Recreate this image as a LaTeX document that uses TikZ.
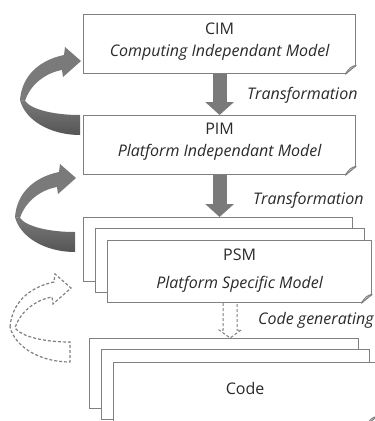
\documentclass[tikz,border=0pt]{standalone}
\usepackage{fontspec}
\setmainfont{Open Sans}
\usetikzlibrary{arrows.meta}
\usetikzlibrary{calc}

\definecolor{frame}{HTML}{808080}
\definecolor{ink}{HTML}{2A2A2A}
\definecolor{arrowgray}{HTML}{7A7A7A}
\definecolor{arrowdark}{HTML}{555555}

% the two halves of the bent ribbon arrows, drawn from their leftmost point
\newcommand{\ribbontop}{(0,0) .. controls (2,-25) and (20,-40) .. (44,-45) -- (45,-53) -- (61,-39) -- (43,-23) -- (42,-30) .. controls (25,-27) and (10,-15) .. (5,1) -- cycle}
\newcommand{\ribbonbottom}{(0,0) .. controls (5,20) and (30,35) .. (60,35) -- (60,15) .. controls (35,15) and (12,10) .. (5,1) -- cycle}
\newcommand{\ribbonall}{(0,0) .. controls (2,-25) and (20,-40) .. (44,-45) -- (45,-53) -- (61,-39) -- (43,-23) -- (42,-30) .. controls (25,-27) and (10,-15) .. (5,1) .. controls (12,10) and (35,15) .. (60,15) -- (60,35) .. controls (30,35) and (5,20) .. (0,0) -- cycle}

% folded corner at the bottom right of a box
\newcommand{\foldcorner}[1]{%
  \fill[white] ($(#1.south east)+(1,-9)$) -- ($(#1.south east)+(1,1)$) -- ($(#1.south east)+(-11,1)$) -- cycle;
  \draw[frame,line width=1.2pt] ($(#1.south east)+(0,-9)$) -- ($(#1.south east)+(-11,0)$);
  \draw[frame,line width=1pt] ($(#1.south east)+(0,-9)$) .. controls ($(#1.south east)+(-6,-7)$) .. ($(#1.south east)+(-11,0)$);}

\begin{document}
\begin{tikzpicture}[x=1pt,y=-1pt,
  box/.style={rectangle,draw=frame,fill=white,line width=1.2pt,anchor=north west,inner sep=0pt},
  txt/.style={text=ink,font=\fontsize{16}{22}\selectfont,align=center,inner sep=0pt},
  lbl/.style={text=ink,font=\fontsize{16}{18}\selectfont\itshape,anchor=west,inner sep=0pt},
  flow/.style={draw=arrowgray,line width=14pt,-{Triangle[length=13pt,width=28pt]}},
  gen/.style={draw=frame,line width=1pt,dashed,dash pattern=on 3pt off 2pt}]
\useasboundingbox (0,0) rectangle (375,421);
\clip (0,0) rectangle (375,421);

% models
\node at (83,14) (cim) [box,minimum width=272pt,minimum height=59pt] {};
\foldcorner{cim}
\node at (83,115) (pim) [box,minimum width=272pt,minimum height=59pt] {};
\foldcorner{pim}
\node at (83,217) (psmb) [box,minimum width=269pt,minimum height=64pt] {};
\node at (95,228) (psmm) [box,minimum width=269pt,minimum height=64pt] {};
\node at (107,240) (psmf) [box,minimum width=264pt,minimum height=62pt] {};
\foldcorner{psmf}
\node at (89,338) (codeb) [box,minimum width=269pt,minimum height=70pt] {};
\node at (101,349) (codem) [box,minimum width=268pt,minimum height=70pt] {};
\node at (113,362) (codef) [box,minimum width=263pt,minimum height=62pt] {};
\foldcorner{codef}

\node at (cim.north) (cimtxt) [txt,below=8.5pt] {CIM\\\itshape Computing Independant Model};
\node at (pim.north) (pimtxt) [txt,below=8pt] {PIM\\\itshape Platform Independant Model};
\node at (psmf.north) (psmtxt) [txt,below=9pt,font=\fontsize{16}{28}\selectfont] {PSM\\\itshape Platform Specific Model};
\node at (codef.north) (codetxt) [txt,below=20pt] {Code};

% transformations
\draw [flow] (cim.south) -- (pim.north);
\draw [flow] (pim.south) -- (pim.south |- psmb.north);
\coordinate (g1) at (psmm.center |- psmf.south);
\coordinate (g2) at (psmm.center |- codeb.north);
\draw [gen] ($(g1)+(-7,0)$) -- ($(g2)+(-7,-8)$) -- ($(g2)+(-11,-8)$) -- (g2)
  -- ($(g2)+(11,-8)$) -- ($(g2)+(7,-8)$) -- ($(g1)+(7,0)$);
\node at (247,95) (tr1) [lbl] {Transformation};
\node at (253,200) (tr2) [lbl] {Transformation};
\node at (258,320) (cg) [lbl] {Code generating};

% refinement loops
\begin{scope}[shift={(20,100)}]
\fill[arrowgray] \ribbontop;
\shade[top color=arrowgray,bottom color=arrowdark] \ribbonbottom;
\end{scope}
\begin{scope}[shift={(15,217)}]
\fill[arrowgray] \ribbontop;
\shade[top color=arrowgray,bottom color=arrowdark] \ribbonbottom;
\end{scope}
\begin{scope}[shift={(10,327)}]
\draw[gen,line width=1.2pt] \ribbonall;
\end{scope}
\end{tikzpicture}
\end{document}
